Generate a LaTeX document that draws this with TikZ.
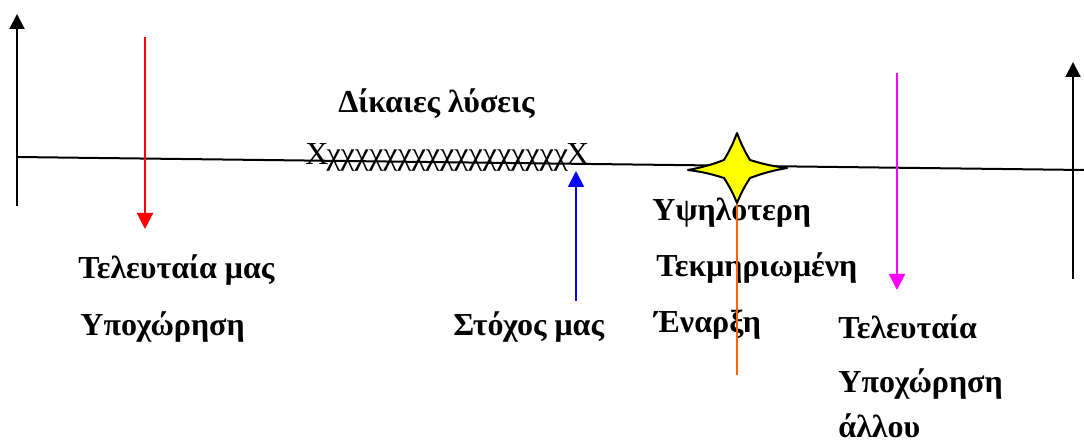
\documentclass[tikz,border=0pt]{standalone}
\usepackage{fontspec}
\setmainfont{Liberation Serif}
\usetikzlibrary{arrows.meta,calc}
\definecolor{pureRed}{RGB}{255,0,0}
\definecolor{pureBlue}{RGB}{0,0,255}
\definecolor{pureMagenta}{RGB}{255,0,255}
\definecolor{deepOrange}{RGB}{255,102,0}
\definecolor{starYellow}{RGB}{255,255,0}
\begin{document}
\begin{tikzpicture}[x=0.5pt,y=-0.5pt,
  axis/.style={line width=1pt,-{Triangle[length=7.5pt,width=7.5pt]}},
  mark arrow/.style={line width=1pt,-{Triangle[length=8pt,width=8pt]}},
  lbl/.style={font=\fontsize{16}{19}\selectfont\bfseries,anchor=west,inner sep=0pt},
  sol/.style={font=\fontsize{16}{19}\selectfont,inner sep=0pt}]
\useasboundingbox (0,0) rectangle (1084,444);

% axes
\coordinate (lb) at (17,206);
\coordinate (lt) at (17,14);
\coordinate (rb) at (1073,279);
\coordinate (rt) at (1073,62);
\coordinate (h0) at (17,157);
\coordinate (h1) at (1084,170);
\draw[line width=1pt] (h0) -- (h1);
\draw[axis] (lb) -- (lt);
\draw[axis] (rb) -- (rt);

% range of fair solutions
\node[lbl] (fair) at (338,104) {Δίκαιες λύσεις};
\node[sol,anchor=west] (range) at (305,157) {X\kern-1pt χχχχχχχχχχχχχχχχχ\kern-1pt X};

% our last retreat
\coordinate (r0) at (145,37);
\coordinate (r1) at (145,229);
\draw[mark arrow,pureRed] (r0) -- (r1);
\node[lbl] (ret1) at (78,270) {Τελευταία μας};
\node[lbl] (ret2) at (80,327) {Υποχώρηση};

% our target
\coordinate (b0) at (576,301);
\coordinate (b1) at (576,171);
\draw[mark arrow,pureBlue] (b0) -- (b1);
\node[lbl] (goal) at (453,327) {Στόχος μας};

% highest justified opening
\node[lbl] (hi1) at (652,213) {Υψηλοτερη};
\node[lbl] (hi2) at (656,268) {Τεκμηριωμένη};
\node[lbl] (hi3) at (654,325) {Έναρξη};
\coordinate (o0) at (737,185);
\coordinate (o1) at (737,375);
\draw[line width=1pt,deepOrange] (o0) -- (o1);
\coordinate (st) at (737,168);
\draw[line width=1pt,line join=round,fill=starYellow]
  ($(st)+(0,-35)$) to[bend right=5] ($(st)+(13,-8)$) to[bend right=5] ($(st)+(50,0)$)
  to[bend right=5] ($(st)+(13,10)$) to[bend right=5] ($(st)+(0,35)$)
  to[bend right=5] ($(st)+(-13,10)$) to[bend right=5] ($(st)+(-49,2)$)
  to[bend right=5] ($(st)+(-13,-8)$) to[bend right=5] cycle;

% other side's last retreat
\coordinate (m0) at (897,73);
\coordinate (m1) at (897,290);
\draw[mark arrow,pureMagenta] (m0) -- (m1);
\node[lbl] (oth1) at (838,327) {Τελευταία};
\node[lbl] (oth2) at (838,384) {Υποχώρηση};
\node[lbl] (oth3) at (838,426) {άλλου};
\end{tikzpicture}
\end{document}
